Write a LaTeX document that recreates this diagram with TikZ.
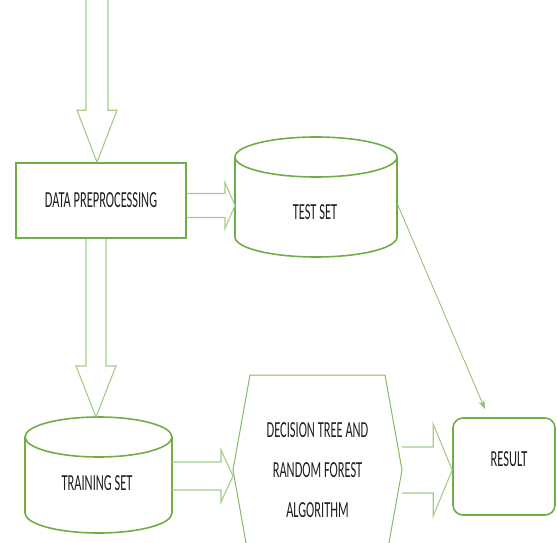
\documentclass[tikz,border=0pt]{standalone}
\usepackage{fontspec}
\newfontfamily\narrowcal[FakeStretch=0.54]{Carlito}
\usetikzlibrary{calc,arrows.meta}
\definecolor{boxgreen}{RGB}{112,173,71}
\definecolor{arrowgreen}{RGB}{163,204,133}
\definecolor{txt}{RGB}{30,30,30}
\tikzset{
  lbl/.style={font=\narrowcal\fontsize{23}{40}\selectfont, text=txt, align=center, inner sep=0pt},
  boxline/.style={draw=boxgreen, line width=1.6pt},
  thinbox/.style={draw=boxgreen!85!white, line width=1pt},
  barrow/.style={draw=arrowgreen, line width=1.1pt, line join=miter},
  ghost/.style={inner sep=0pt, outer sep=0pt},
}
\newcommand{\myvarrow}[5]{\draw[barrow] let \p1=(#1), \p2=(#2) in
  (\x1-#3,\y1) -- (\x1-#3,\y2+#5) -- (\x1-#4,\y2+#5) -- (\x1,\y2) -- (\x1+#4,\y2+#5) -- (\x1+#3,\y2+#5) -- (\x1+#3,\y1);}
\newcommand{\myharrow}[5]{\draw[barrow] let \p1=(#1), \p2=(#2) in
  (\x1,\y1+#3) -- (\x2-#5,\y1+#3) -- (\x2-#5,\y1+#4) -- (\x2,\y1) -- (\x2-#5,\y1-#4) -- (\x2-#5,\y1-#3) -- (\x1,\y1-#3);}
\begin{document}
\begin{tikzpicture}[x=1pt,y=-1pt]
\useasboundingbox (0,0) rectangle (557,543);
\clip (0,0) rectangle (557,543);

% Data preprocessing box
\node[boxline, rectangle, minimum width=170pt, minimum height=75pt, lbl] (dp) at (101,200.5) {DATA PREPROCESSING};

% Test set cylinder
\node[ghost, minimum width=162pt, minimum height=120pt] (test) at (316,197) {};
\draw[boxline, fill=white] ($(test.north west)+(0,20)$) -- ($(test.south west)+(0,-20)$)
  arc[start angle=180, end angle=0, x radius=81, y radius=20] -- ($(test.north east)+(0,20)$);
\draw[boxline] ($(test.north)+(0,20)$) ellipse [x radius=81, y radius=20];
\node[lbl] (testlbl) at (315,212) {TEST SET};

% Training set cylinder
\node[ghost, minimum width=147pt, minimum height=116pt] (train) at (98.5,475) {};
\draw[boxline, fill=white] ($(train.north west)+(0,20)$) -- ($(train.south west)+(0,-20)$)
  arc[start angle=180, end angle=0, x radius=73.5, y radius=20] -- ($(train.north east)+(0,20)$);
\draw[boxline] ($(train.north)+(0,20)$) ellipse [x radius=73.5, y radius=20];
\node[lbl] (trainlbl) at (97,483) {TRAINING SET};

% Hexagon
\node[ghost, minimum width=169pt, minimum height=190pt, lbl] (hex) at (317.5,470)
  {DECISION TREE AND\\RANDOM FOREST\\ALGORITHM};
\draw[thinbox] (hex.west) -- ($(hex.north west)+(17,0)$) -- ($(hex.north east)+(-17,0)$)
  -- (hex.east) -- ($(hex.south east)+(-17,0)$) -- ($(hex.south west)+(17,0)$) -- cycle;

% Result
\node[boxline, rectangle, rounded corners=10pt, minimum width=102pt, minimum height=97pt] (result) at (504,466.5) {};
\node[lbl] (reslbl) at (509,459) {RESULT};

% Block arrows
\coordinate (topin) at (97,-5);
\myvarrow{topin}{$(dp.north)+(-4,0)$}{11pt}{20pt}{52pt}
\myvarrow{$(dp.south)+(-5,0)$}{train.north}{10pt}{20pt}{51pt}
\myharrow{$(dp.east)+(0,5)$}{test.west}{12pt}{23pt}{10pt}
\myharrow{$(train.east)+(0,1)$}{hex.west}{14pt}{26pt}{12pt}
\myharrow{hex.east}{result.west}{23pt}{46pt}{19pt}

% Thin connector test -> result
\draw[draw=boxgreen!80!white, line width=0.8pt, -{Stealth[length=9pt,width=6pt]}]
  ($(test.east)+(0,6)$) -- ($(result.north)+(-19,-8)$);
\end{tikzpicture}
\end{document}
